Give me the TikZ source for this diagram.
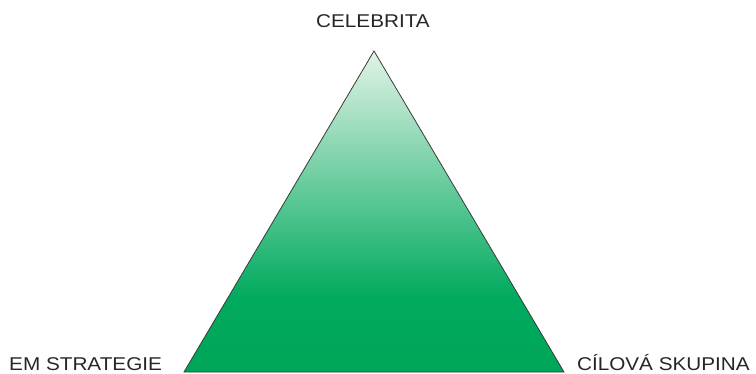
\documentclass[tikz,border=0pt]{standalone}
\usepackage{fontspec}
\setmainfont{Liberation Sans}
\usepackage{tikz}
\usetikzlibrary{calc}
\definecolor{gn}{HTML}{00AA5E}
\definecolor{gd}{HTML}{00A658}
\definecolor{lt}{HTML}{E2F3E7}
\definecolor{ed}{HTML}{3A3A3A}

\begin{document}
\begin{tikzpicture}[x=1pt,y=1pt,
  lbl/.style={font=\fontsize{18.5}{20}\selectfont,inner sep=0pt,xscale=1.12,text=black!85},
  edge/.style={draw=ed,line width=0.8pt,line join=miter}]
\useasboundingbox (0,0) rectangle (756,373);
\coordinate (apex) at (374,322);
\coordinate (bl) at (184,1);
\coordinate (br) at (564,1);
% gradient fill, light at the top
\begin{scope}
  \clip (apex)--(br)--(bl)--cycle;
  \shade[top color=lt,bottom color=gn] (150,322) rectangle (600,75);
  \shade[top color=gn,bottom color=gd] (150,75.5) rectangle (600,0);
\end{scope}
\draw[edge](apex)--(br)--(bl)--cycle;
\node[lbl,anchor=base](celeb) at ($(apex)+(-1,23)$){CELEBRITA};
\node[lbl,anchor=base west](strat) at (9,3){EM STRATEGIE};
\node[lbl,anchor=base east](skup) at (750,3){CÍLOVÁ SKUPINA};
\end{tikzpicture}
\end{document}
